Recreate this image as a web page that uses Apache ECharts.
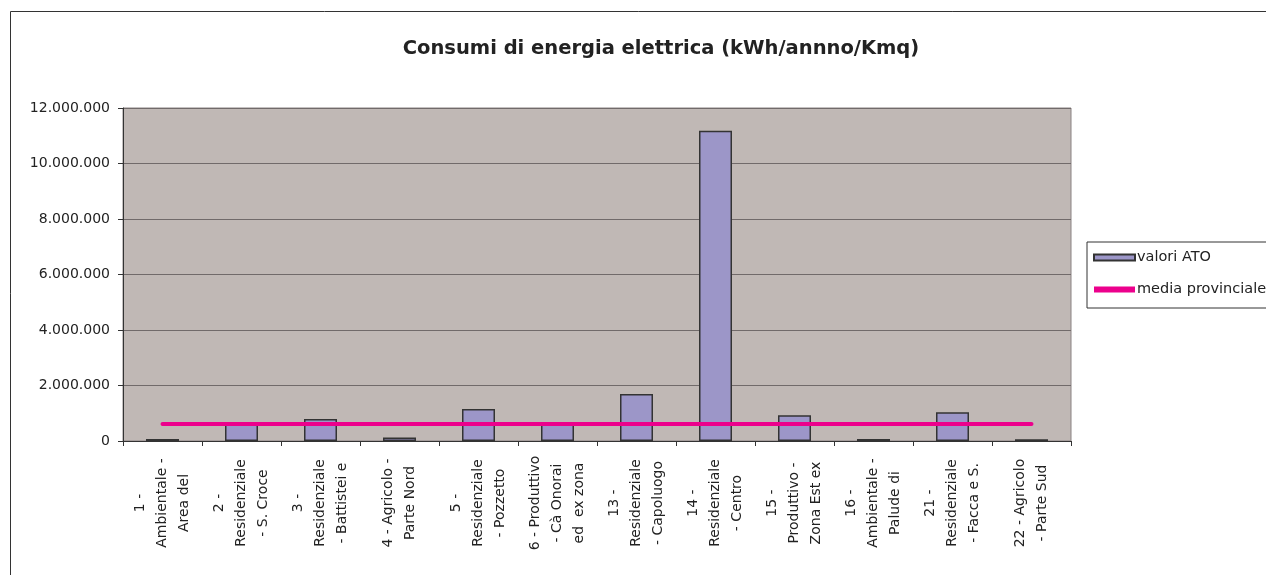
<!DOCTYPE html>
<html>
<head>
<meta charset="utf-8">
<script src="https://cdn.jsdelivr.net/npm/echarts@6/dist/echarts.min.js"></script>
<style>
html,body{margin:0;padding:0;background:#fff;}
#chart{width:1266px;height:575px;}
</style>
</head>
<body>
<div id="chart"></div>
<script>
var categories = [
  "1 -\nAmbientale -\nArea del",
  "2 -\nResidenziale\n- S. Croce",
  "3 -\nResidenziale\n- Battistei e",
  "4 - Agricolo -\nParte Nord",
  "5 -\nResidenziale\n- Pozzetto",
  "6 - Produttivo\n- Cà Onorai\ned  ex zona",
  "13 -\nResidenziale\n- Capoluogo",
  "14 -\nResidenziale\n- Centro",
  "15 -\nProduttivo -\nZona Est ex",
  "16 -\nAmbientale -\nPalude di",
  "21 -\nResidenziale\n- Facca e S.",
  "22 - Agricolo\n- Parte Sud"
];
var valoriATO = [70000, 660000, 790000, 130000, 1150000, 660000, 1690000, 11180000, 925000, 70000, 1035000, 60000];
var mediaProvinciale = [610000, 610000, 610000, 610000, 610000, 610000, 610000, 610000, 610000, 610000, 610000, 610000];
var yTicks = { min: 0, max: 12000000, interval: 2000000 };
var titleText = "Consumi di energia elettrica (kWh/annno/Kmq)";
var seriesNames = ["valori ATO", "media provinciale"];

function fmt(v) {
  return String(v).replace(/\B(?=(\d{3})+(?!\d))/g, ".");
}

var chart = echarts.init(document.getElementById('chart'), null, { renderer: 'canvas' });
chart.setOption({
  animation: false,
  backgroundColor: '#ffffff',
  textStyle: { fontFamily: 'DejaVu Sans' },
  graphic: [{
    type: 'rect',
    silent: true,
    shape: { x: 10.5, y: 11.5, width: 1400, height: 700 },
    style: { fill: 'none', stroke: '#333333', lineWidth: 1 },
    z: -10
  }],
  title: {
    text: titleText,
    left: 656,
    top: 34,
    textAlign: 'center',
    textStyle: { fontFamily: 'DejaVu Sans', fontWeight: 'bold', fontSize: 19.5, color: '#222222' }
  },
  legend: {
    orient: 'vertical',
    left: 1087,
    top: 242,
    padding: [7, 60, 10, 6],
    itemGap: 15,
    itemWidth: 41,
    itemHeight: 6,
    borderColor: '#333333',
    borderWidth: 1,
    backgroundColor: '#ffffff',
    textStyle: { fontFamily: 'DejaVu Sans', fontSize: 14.5, color: '#222222', padding: [0, 0, 0, -3], lineHeight: 17 },
    data: [
      { name: seriesNames[0], icon: 'rect' },
      { name: seriesNames[1], icon: 'rect', itemStyle: { color: '#ec008c', borderWidth: 0 } }
    ]
  },
  grid: {
    left: 123, right: 195, top: 108, bottom: 134,
    show: true,
    backgroundColor: '#c0b8b5',
    borderColor: '#8a8282',
    borderWidth: 1
  },
  xAxis: {
    type: 'category',
    data: categories,
    boundaryGap: true,
    axisLine: { lineStyle: { color: '#333333', width: 1 } },
    axisTick: { show: true, length: 5, inside: false, alignWithLabel: false, lineStyle: { color: '#333333' } },
    axisLabel: {
      interval: 0,
      rotate: 90,
      align: 'center',
      verticalAlign: 'middle',
      margin: 62,
      fontFamily: 'DejaVu Sans',
      fontSize: 14,
      lineHeight: 22,
      color: '#222222'
    }
  },
  yAxis: {
    type: 'value',
    min: yTicks.min,
    max: yTicks.max,
    interval: yTicks.interval,
    axisLine: { show: true, lineStyle: { color: '#333333', width: 1 } },
    axisTick: { show: true, length: 5, lineStyle: { color: '#333333' } },
    splitLine: { show: true, lineStyle: { color: '#716a6a', width: 1 } },
    axisLabel: {
      margin: 13,
      fontFamily: 'DejaVu Sans',
      fontSize: 14,
      color: '#222222',
      formatter: function (v) { return fmt(v); }
    }
  },
  series: [
    {
      name: seriesNames[0],
      type: 'bar',
      data: valoriATO,
      barWidth: 33,
      itemStyle: { color: '#9c96c8', borderColor: '#333333', borderWidth: 1.5 }
    },
    {
      name: seriesNames[1],
      type: 'line',
      data: mediaProvinciale,
      symbol: 'none',
      showSymbol: false,
      lineStyle: { color: '#ec008c', width: 4, cap: 'round' },
      itemStyle: { color: '#ec008c' },
      z: 3
    }
  ]
});
</script>
</body>
</html>
